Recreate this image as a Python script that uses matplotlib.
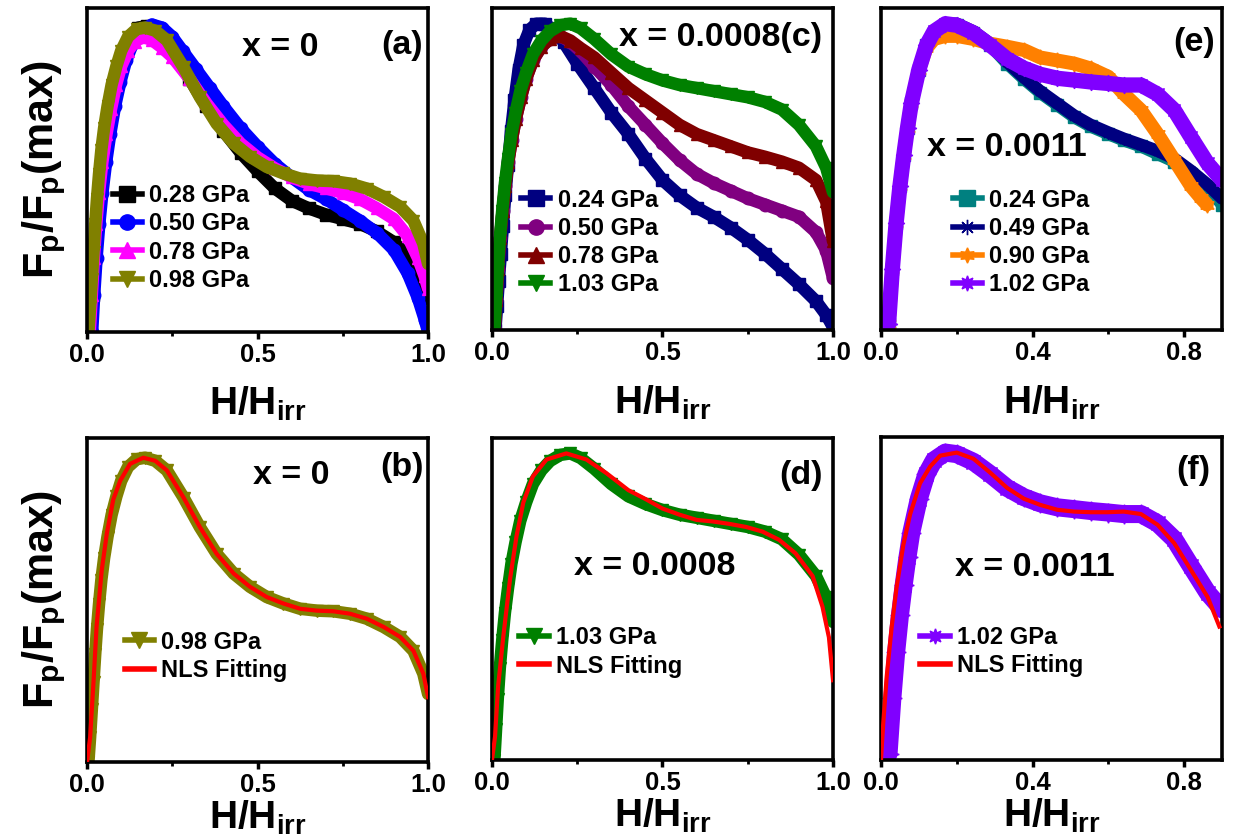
import numpy as np
import matplotlib.pyplot as plt
from matplotlib.lines import Line2D
from matplotlib.ticker import FormatStrFormatter

plt.rcParams['font.family'] = 'Liberation Sans'
plt.rcParams['font.weight'] = 'bold'
plt.rcParams['axes.labelweight'] = 'bold'
plt.rcParams['mathtext.fontset'] = 'custom'
plt.rcParams['mathtext.rm'] = 'Liberation Sans:bold'
plt.rcParams['mathtext.it'] = 'Liberation Sans:bold'
plt.rcParams['mathtext.bf'] = 'Liberation Sans:bold'

# ---- panel (a) : x = 0 ----
a_028_x = [0.01, 0.016, 0.022, 0.03, 0.038, 0.048, 0.06, 0.073, 0.088, 0.105, 0.125, 0.15, 0.175, 0.2, 0.23, 0.26,
           0.3, 0.35, 0.4, 0.45, 0.5, 0.55, 0.6, 0.65, 0.7, 0.75, 0.8, 0.85, 0.9, 0.94, 0.97, 0.99, 1.0]
a_028_y = [0.0, 0.12, 0.24, 0.36, 0.46, 0.56, 0.66, 0.75, 0.83, 0.9, 0.95, 0.985, 0.99, 0.975, 0.935, 0.89,
           0.82, 0.73, 0.65, 0.58, 0.52, 0.465, 0.425, 0.4, 0.38, 0.365, 0.35, 0.325, 0.29, 0.245, 0.19, 0.14, 0.11]
a_050_x = [0.015, 0.021, 0.028, 0.036, 0.045, 0.056, 0.068, 0.082, 0.098, 0.115, 0.135, 0.16, 0.19, 0.22, 0.25, 0.28,
           0.32, 0.36, 0.4, 0.45, 0.5, 0.55, 0.6, 0.65, 0.7, 0.75, 0.8, 0.85, 0.9, 0.94, 0.97, 0.99, 1.0]
a_050_y = [0.0, 0.12, 0.24, 0.35, 0.45, 0.55, 0.64, 0.73, 0.81, 0.88, 0.935, 0.975, 0.995, 0.985, 0.955, 0.91,
           0.85, 0.79, 0.73, 0.66, 0.6, 0.545, 0.5, 0.46, 0.43, 0.395, 0.36, 0.32, 0.265, 0.19, 0.11, 0.04, 0.0]
a_078_x = [0.008, 0.014, 0.02, 0.027, 0.035, 0.045, 0.057, 0.07, 0.085, 0.1, 0.12, 0.14, 0.165, 0.19, 0.22, 0.25,
           0.3, 0.35, 0.4, 0.45, 0.5, 0.55, 0.6, 0.65, 0.7, 0.75, 0.8, 0.85, 0.9, 0.94, 0.97, 0.99, 1.0]
a_078_y = [0.0, 0.12, 0.24, 0.35, 0.45, 0.55, 0.64, 0.72, 0.8, 0.86, 0.91, 0.94, 0.955, 0.945, 0.92, 0.89,
           0.82, 0.74, 0.67, 0.61, 0.565, 0.53, 0.5, 0.48, 0.465, 0.45, 0.43, 0.4, 0.365, 0.31, 0.24, 0.18, 0.14]
a_098_x = [0.004, 0.009, 0.014, 0.019, 0.024, 0.029, 0.035, 0.042, 0.05, 0.06, 0.072, 0.086, 0.1, 0.12, 0.145, 0.17,
           0.2, 0.234, 0.283, 0.331, 0.38, 0.43, 0.478, 0.527, 0.576, 0.625, 0.674, 0.722, 0.771, 0.82, 0.87,
           0.918, 0.957, 0.986, 1.0]
a_098_y = [0.0, 0.08, 0.17, 0.26, 0.35, 0.43, 0.51, 0.59, 0.66, 0.73, 0.8, 0.86, 0.91, 0.955, 0.98, 0.985,
           0.975, 0.944, 0.856, 0.76, 0.674, 0.61, 0.567, 0.534, 0.513, 0.496, 0.49, 0.488, 0.48, 0.464, 0.437,
           0.405, 0.36, 0.286, 0.22]

# ---- panel (b) : NLS fit of 0.98 GPa ----
b_fit_x = [0.0, 0.009, 0.019, 0.028, 0.043, 0.058, 0.077, 0.097, 0.126, 0.165, 0.2, 0.234, 0.283, 0.331, 0.38,
           0.43, 0.478, 0.527, 0.576, 0.625, 0.674, 0.722, 0.771, 0.82, 0.87, 0.918, 0.957, 0.986, 1.0]
b_fit_y = [0.0, 0.08, 0.26, 0.44, 0.62, 0.74, 0.85, 0.91, 0.965, 0.985, 0.975, 0.944, 0.856, 0.76, 0.674,
           0.61, 0.567, 0.534, 0.513, 0.496, 0.49, 0.488, 0.48, 0.464, 0.437, 0.405, 0.36, 0.286, 0.21]

# ---- panel (c) : x = 0.0008 ----
c_024_x = [0.01, 0.015, 0.02, 0.026, 0.032, 0.039, 0.047, 0.056, 0.066, 0.078, 0.092, 0.11, 0.13, 0.155, 0.18,
           0.21, 0.25, 0.3, 0.35, 0.4, 0.45, 0.5, 0.55, 0.6, 0.65, 0.7, 0.75, 0.8, 0.85, 0.9, 0.95, 0.98, 1.0]
c_024_y = [0.0, 0.08, 0.16, 0.25, 0.34, 0.44, 0.54, 0.65, 0.75, 0.85, 0.93, 0.98, 1.0, 1.0, 0.98,
           0.94, 0.87, 0.79, 0.71, 0.64, 0.56, 0.49, 0.44, 0.4, 0.37, 0.335, 0.295, 0.25, 0.2, 0.15, 0.095, 0.05, 0.01]
c_050_x = [0.008, 0.013, 0.018, 0.024, 0.031, 0.039, 0.048, 0.058, 0.07, 0.085, 0.1, 0.12, 0.145, 0.17, 0.2,
           0.23, 0.26, 0.3, 0.35, 0.4, 0.45, 0.5, 0.55, 0.6, 0.65, 0.7, 0.75, 0.8, 0.85, 0.9, 0.95, 0.98, 1.0]
c_050_y = [0.0, 0.1, 0.2, 0.3, 0.39, 0.47, 0.55, 0.62, 0.69, 0.76, 0.82, 0.88, 0.925, 0.95, 0.96,
           0.94, 0.91, 0.86, 0.8, 0.73, 0.67, 0.61, 0.555, 0.51, 0.48, 0.455, 0.43, 0.41, 0.39, 0.37, 0.32, 0.26, 0.17]
c_078_x = [0.008, 0.013, 0.018, 0.024, 0.031, 0.039, 0.048, 0.058, 0.07, 0.085, 0.1, 0.12, 0.145, 0.17, 0.2,
           0.23, 0.26, 0.3, 0.35, 0.4, 0.45, 0.5, 0.55, 0.6, 0.65, 0.7, 0.75, 0.8, 0.85, 0.9, 0.95, 0.98, 1.0]
c_078_y = [0.0, 0.1, 0.2, 0.3, 0.39, 0.47, 0.55, 0.62, 0.69, 0.76, 0.82, 0.88, 0.925, 0.95, 0.96,
           0.945, 0.92, 0.89, 0.84, 0.79, 0.75, 0.71, 0.67, 0.64, 0.62, 0.6, 0.58, 0.566, 0.55, 0.53, 0.49, 0.42, 0.29]
c_103_x = [0.007, 0.012, 0.017, 0.023, 0.03, 0.038, 0.047, 0.057, 0.069, 0.083, 0.1, 0.12, 0.145, 0.17, 0.2,
           0.23, 0.26, 0.3, 0.35, 0.4, 0.45, 0.5, 0.55, 0.6, 0.65, 0.7, 0.75, 0.8, 0.85, 0.9, 0.95, 0.98, 1.0]
c_103_y = [0.0, 0.1, 0.2, 0.3, 0.39, 0.48, 0.56, 0.64, 0.71, 0.78, 0.84, 0.9, 0.945, 0.975, 0.995,
           1.0, 0.985, 0.95, 0.9, 0.86, 0.835, 0.815, 0.8, 0.79, 0.78, 0.77, 0.76, 0.745, 0.72, 0.67, 0.6, 0.53, 0.45]

# ---- panel (d) : NLS fit of 1.03 GPa ----
d_fit_x = [0.0, 0.009, 0.018, 0.033, 0.053, 0.072, 0.092, 0.12, 0.16, 0.218, 0.277, 0.335, 0.4, 0.452, 0.5,
           0.55, 0.6, 0.647, 0.696, 0.745, 0.793, 0.842, 0.89, 0.94, 0.969, 0.988, 1.0]
d_fit_y = [0.0, 0.076, 0.24, 0.4, 0.59, 0.73, 0.84, 0.925, 0.98, 1.0, 0.98, 0.936, 0.88, 0.85, 0.82,
           0.8, 0.783, 0.778, 0.77, 0.76, 0.745, 0.718, 0.674, 0.6, 0.5, 0.4, 0.26]

# ---- panel (e) : x = 0.0011 ----
e_x = [0.012, 0.02, 0.03, 0.04, 0.05, 0.06, 0.07, 0.08, 0.1, 0.12, 0.14, 0.17, 0.2, 0.244, 0.288, 0.333,
       0.377, 0.42, 0.465, 0.51, 0.553, 0.6, 0.64, 0.686, 0.73, 0.774, 0.818, 0.862, 0.9]
e_024_y = [0.0, 0.02, 0.2, 0.35, 0.47, 0.57, 0.66, 0.74, 0.85, 0.93, 0.97, 0.995, 0.995, 0.97, 0.93, 0.87,
           0.82, 0.775, 0.735, 0.695, 0.665, 0.64, 0.62, 0.6, 0.575, 0.55, 0.51, 0.465, 0.41]
e_049_y = [0.0, 0.02, 0.2, 0.35, 0.47, 0.57, 0.66, 0.74, 0.85, 0.93, 0.97, 1.0, 1.0, 0.975, 0.935, 0.875,
           0.825, 0.78, 0.74, 0.7, 0.67, 0.645, 0.625, 0.605, 0.585, 0.56, 0.52, 0.475, 0.43]
e_090_x = [0.012, 0.02, 0.03, 0.04, 0.05, 0.06, 0.07, 0.08, 0.1, 0.12, 0.14, 0.17, 0.2, 0.244, 0.288, 0.333,
           0.377, 0.42, 0.465, 0.51, 0.553, 0.6, 0.64, 0.686, 0.73, 0.774, 0.818, 0.845, 0.86]
e_090_y = [0.0, 0.02, 0.2, 0.35, 0.47, 0.57, 0.66, 0.74, 0.85, 0.92, 0.95, 0.96, 0.96, 0.95, 0.935, 0.925,
           0.914, 0.89, 0.88, 0.87, 0.854, 0.827, 0.772, 0.718, 0.64, 0.555, 0.47, 0.43, 0.41]
e_102_y = [0.0, 0.02, 0.2, 0.35, 0.47, 0.57, 0.66, 0.74, 0.85, 0.93, 0.975, 1.0, 0.995, 0.97, 0.93, 0.885,
           0.855, 0.835, 0.822, 0.816, 0.81, 0.805, 0.8, 0.8, 0.77, 0.718, 0.63, 0.544, 0.49]

# ---- panel (f) : NLS fit of 1.02 GPa ----
f_fit_x = [0.0, 0.006, 0.015, 0.028, 0.041, 0.059, 0.077, 0.103, 0.13, 0.156, 0.2, 0.244, 0.288, 0.333, 0.377,
           0.42, 0.465, 0.51, 0.553, 0.597, 0.641, 0.686, 0.73, 0.774, 0.818, 0.862, 0.893]
f_fit_y = [0.0, 0.12, 0.27, 0.43, 0.56, 0.7, 0.8, 0.9, 0.955, 0.99, 1.0, 0.98, 0.935, 0.885, 0.85,
           0.83, 0.814, 0.808, 0.806, 0.806, 0.808, 0.8, 0.765, 0.705, 0.618, 0.53, 0.434]

RED = '#FF0000'
YLAB = r'F$_\mathrm{p}$/F$_\mathrm{p}$(max)'
LEG = dict(loc='upper left', frameon=False, fontsize=17, handlelength=1.25, handletextpad=0.3,
           labelspacing=0.22, borderpad=0, borderaxespad=0)


def style(ax, xmax, major, minor, xlabel_pad):
    ax.set_xlim(0, xmax)
    ax.set_ylim(0, 1.05)
    ax.set_xticks(major)
    ax.set_xticks(minor, minor=True)
    ax.xaxis.set_major_formatter(FormatStrFormatter('%.1f'))
    ax.set_yticks([])
    ax.tick_params(axis='x', which='major', direction='out', length=5, width=2.5, labelsize=18.5, pad=3)
    ax.tick_params(axis='x', which='minor', direction='out', length=3, width=2)
    for s in ax.spines.values():
        s.set_linewidth(2.6)
    ax.set_xlabel(r'H/H$_\mathrm{irr}$', fontsize=28, labelpad=xlabel_pad)


def band(ax, x, y, c, m, ms=9, lw=9):
    ax.plot(x, y, color=c, lw=lw, solid_capstyle='round', zorder=2)
    ax.plot(x, y, ls='none', marker=m, color=c, ms=ms, zorder=2)
    return Line2D([], [], color=c, lw=4, marker=m, ms=11)


fig = plt.figure(figsize=(12.33, 8.36), dpi=100)
lefts = [0.0706, 0.399, 0.7145]
W = 0.2766
axa = fig.add_axes([lefts[0], 0.603, W, 0.388])
axc = fig.add_axes([lefts[1], 0.605, W, 0.385])
axe = fig.add_axes([lefts[2], 0.605, W, 0.385])
axb = fig.add_axes([lefts[0], 0.0885, W, 0.388])
axd = fig.add_axes([lefts[1], 0.091, W, 0.385])
axf = fig.add_axes([lefts[2], 0.091, W, 0.386])

# (a)
h = [band(axa, a_028_x, a_028_y, 'black', 's'),
     band(axa, a_050_x, a_050_y, '#0000FF', 'o'),
     band(axa, a_078_x, a_078_y, '#FF00FF', '^'),
     band(axa, a_098_x, a_098_y, '#808000', 'v')]
axa.legend(h, ['0.28 GPa', '0.50 GPa', '0.78 GPa', '0.98 GPa'], bbox_to_anchor=(0.075, 0.455), **LEG)
axa.text(0.566, 0.877, 'x = 0', transform=axa.transAxes, ha='center', va='center', fontsize=24.5)
axa.text(0.923, 0.883, '(a)', transform=axa.transAxes, ha='center', va='center', fontsize=24.5)
style(axa, 1.0, [0, 0.5, 1.0], [0.25, 0.75], 13)
axa.set_ylabel(YLAB, fontsize=31, labelpad=14)

# (b)
hb = band(axb, a_098_x, a_098_y, '#808000', 'v')
axb.plot(b_fit_x, b_fit_y, color=RED, lw=3, zorder=3)
axb.legend([hb, Line2D([], [], color=RED, lw=4)], ['0.98 GPa', 'NLS Fitting'],
           bbox_to_anchor=(0.11, 0.405), **LEG)
axb.text(0.60, 0.883, 'x = 0', transform=axb.transAxes, ha='center', va='center', fontsize=24.5)
axb.text(0.923, 0.908, '(b)', transform=axb.transAxes, ha='center', va='center', fontsize=24.5)
style(axb, 1.0, [0, 0.5, 1.0], [0.25, 0.75], 1)
axb.set_ylabel(YLAB, fontsize=31, labelpad=14)

# (c)
h = [band(axc, c_024_x, c_024_y, '#000080', 's'),
     band(axc, c_050_x, c_050_y, '#800080', 'o'),
     band(axc, c_078_x, c_078_y, '#800000', '^'),
     band(axc, c_103_x, c_103_y, '#008000', 'v')]
axc.legend(h, ['0.24 GPa', '0.50 GPa', '0.78 GPa', '1.03 GPa'], bbox_to_anchor=(0.085, 0.44), **LEG)
axc.text(0.67, 0.91, 'x = 0.0008(c)', transform=axc.transAxes, ha='center', va='center', fontsize=24.5)
style(axc, 1.0, [0, 0.5, 1.0], [0.25, 0.75], 13)

# (d)
hd = band(axd, c_103_x, c_103_y, '#008000', 'v')
axd.plot(d_fit_x, d_fit_y, color=RED, lw=3, zorder=3)
axd.legend([hd, Line2D([], [], color=RED, lw=4)], ['1.03 GPa', 'NLS Fitting'],
           bbox_to_anchor=(0.08, 0.415), **LEG)
axd.text(0.477, 0.6, 'x = 0.0008', transform=axd.transAxes, ha='center', va='center', fontsize=24.5)
axd.text(0.906, 0.885, '(d)', transform=axd.transAxes, ha='center', va='center', fontsize=24.5)
style(axd, 1.0, [0, 0.5, 1.0], [0.25, 0.75], 1)

# (e)
h = [band(axe, e_x, e_024_y, '#008080', 's'),
     band(axe, e_x, e_049_y, '#000080', (8, 2, 0)),
     band(axe, e_090_x, e_090_y, '#FF8000', (6, 1, 0), ms=11, lw=10),
     band(axe, e_x, e_102_y, '#8000FF', (8, 1, 0), ms=12, lw=11)]
axe.legend(h, ['0.24 GPa', '0.49 GPa', '0.90 GPa', '1.02 GPa'], bbox_to_anchor=(0.21, 0.44), **LEG)
axe.text(0.368, 0.568, 'x = 0.0011', transform=axe.transAxes, ha='center', va='center', fontsize=24.5)
axe.text(0.918, 0.894, '(e)', transform=axe.transAxes, ha='center', va='center', fontsize=24.5)
style(axe, 0.9, [0, 0.4, 0.8], [0.2, 0.6], 13)

# (f)
hf = band(axf, e_x, e_102_y, '#8000FF', (8, 1, 0), ms=14, lw=13)
axf.plot(f_fit_x, f_fit_y, color=RED, lw=3, zorder=3)
axf.legend([hf, Line2D([], [], color=RED, lw=4)], ['1.02 GPa', 'NLS Fitting'],
           bbox_to_anchor=(0.115, 0.415), **LEG)
axf.text(0.45, 0.597, 'x = 0.0011', transform=axf.transAxes, ha='center', va='center', fontsize=24.5)
axf.text(0.915, 0.898, '(f)', transform=axf.transAxes, ha='center', va='center', fontsize=24.5)
style(axf, 0.9, [0, 0.4, 0.8], [0.2, 0.6], 1)

fig.savefig('out.png', dpi=100)
